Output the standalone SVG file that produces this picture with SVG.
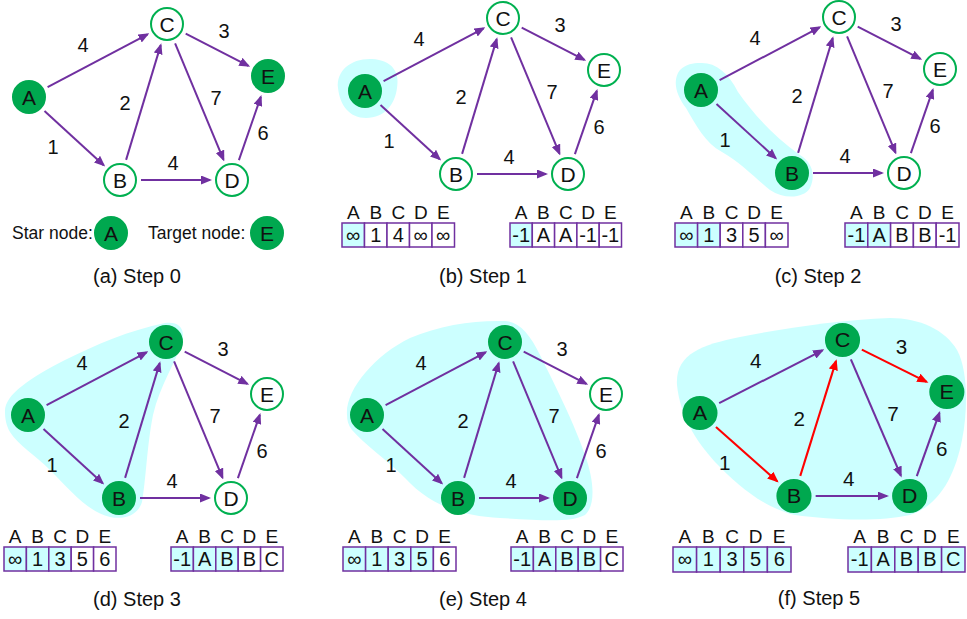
<svg xmlns="http://www.w3.org/2000/svg" width="967" height="619" viewBox="0 0 967 619">
<defs>
  <marker id="ap" viewBox="0 0 11 9" refX="9" refY="4.5" markerWidth="11" markerHeight="9" markerUnits="userSpaceOnUse" orient="auto"><path d="M0,0 L11,4.5 L0,9 z" fill="#7030A0"/></marker>
  <marker id="ar" viewBox="0 0 11 9" refX="9" refY="4.5" markerWidth="11" markerHeight="9" markerUnits="userSpaceOnUse" orient="auto"><path d="M0,0 L11,4.5 L0,9 z" fill="#FF0000"/></marker>
</defs>
<style>
  text{font-family:"Liberation Sans",Arial,sans-serif;fill:#111}
  .w{font-size:20px;text-anchor:middle}
  .nt{font-size:21px;text-anchor:middle}
  .hd{font-size:19px;text-anchor:middle}
  .cv{font-size:20px;text-anchor:middle}
  .cap{font-size:20px;text-anchor:middle}
  .leg{font-size:17.5px}
  .open{fill:#fff;stroke:#00B050;stroke-width:2}
  .done{fill:#00A84F;stroke:#00A84F;stroke-width:2}
  .edges line{stroke:#7030A0;stroke-width:2;fill:none;marker-end:url(#ap)}
  .edges line.red{stroke:#FF0000;marker-end:url(#ar)}
  .blob{fill:#CCFFFF}
  .cell{fill:#fff;stroke:#7030A0;stroke-width:1.5}
  .cell.hl{fill:#CCFFFF}
</style>
<rect width="967" height="619" fill="#fff"/>

<!-- visited-set regions -->
<path class="blob" d="M 338 88 C 336 70, 352 58, 372 59 C 392 60, 400 72, 397 88 C 395 104, 385 118, 366 118 C 350 118, 340 106, 338 88 Z"/>
<path class="blob" d="M 700 63 C 715 62, 728 72, 738 92 C 752 112, 772 135, 800 155 C 812 162, 816 175, 810 188 C 804 198, 785 200, 770 190 C 755 178, 740 162, 722 152 C 705 143, 696 125, 686 108 C 676 95, 672 80, 680 70 C 686 64, 693 63, 700 63 Z"/>
<path class="blob" d="M 5 412 C 4 395, 30 378, 65 360 C 95 345, 130 330, 165 323 C 178 321, 186 328, 182 342 C 176 362, 160 385, 153 415 C 147 445, 146 480, 142 502 C 138 515, 125 520, 110 517 C 88 512, 70 490, 50 470 C 35 455, 18 445, 10 432 C 6 425, 5 418, 5 412 Z"/>
<path class="blob" d="M 347 415 C 345 390, 375 355, 410 338 C 440 325, 475 320, 505 321 C 520 322, 530 335, 540 355 C 555 385, 575 425, 585 455 C 594 480, 596 505, 585 515 C 570 523, 540 520, 500 518 C 460 516, 430 505, 405 478 C 385 458, 365 445, 352 430 C 348 425, 347 420, 347 415 Z"/>
<path class="blob" d="M 677 385 C 675 355, 700 345, 740 337 C 785 328, 840 320, 890 318 C 920 318, 945 330, 957 350 C 968 370, 968 410, 962 440 C 955 475, 940 505, 910 515 C 880 522, 830 520, 795 515 C 765 508, 740 488, 715 462 C 695 440, 680 415, 677 385 Z"/>

<!-- (a) Step 0 -->
<g id="panel-a">
  <g id="a-edges" class="edges">
    <line x1="47.6" y1="87.2" x2="147.6" y2="34.3"/>
    <line x1="44.5" y1="111.1" x2="103.7" y2="165.2"/>
    <line x1="126.1" y1="159.9" x2="160.7" y2="45.1"/>
    <line x1="175.1" y1="43.4" x2="223.5" y2="159.7"/>
    <line x1="185.7" y1="33.6" x2="248.4" y2="65.9"/>
    <line x1="141" y1="180" x2="210" y2="180"/>
    <line x1="238.9" y1="160.2" x2="260.8" y2="96.8"/>
  </g>
  <g id="a-weights">
    <text class="w" x="83" y="52">4</text><text class="w" x="224" y="38">3</text><text class="w" x="125" y="110">2</text><text class="w" x="216" y="105">7</text><text class="w" x="53" y="154">1</text><text class="w" x="173" y="170">4</text><text class="w" x="263" y="140">6</text>
  </g>
  <g id="a-A"><circle class="done" cx="29" cy="97" r="16"/><text class="nt" x="29" y="104.5">A</text></g>
  <g id="a-B"><circle class="open" cx="120" cy="180" r="16"/><text class="nt" x="120" y="187.5">B</text></g>
  <g id="a-C"><circle class="open" cx="167" cy="24" r="16"/><text class="nt" x="167" y="31.5">C</text></g>
  <g id="a-D"><circle class="open" cx="232" cy="180" r="16"/><text class="nt" x="232" y="187.5">D</text></g>
  <g id="a-E"><circle class="done" cx="268" cy="76" r="16"/><text class="nt" x="268" y="83.5">E</text></g>
  <g id="legend">
    <text class="leg" x="12" y="239">Star node:</text>
    <g id="legend-start"><circle class="done" cx="111" cy="233" r="16"/><text class="nt" x="111" y="240.5">A</text></g>
    <text class="leg" x="148" y="239">Target node:</text>
    <g id="legend-target"><circle class="done" cx="267" cy="233" r="16"/><text class="nt" x="267" y="240.5">E</text></g>
  </g>
  <text class="cap" x="137" y="283">(a) Step 0</text>
</g>

<!-- (b) Step 1 -->
<g id="panel-b">
  <g transform="translate(336,-6)">
    <g id="b-edges" class="edges">
      <line x1="47.6" y1="87.2" x2="147.6" y2="34.3"/>
      <line x1="44.5" y1="111.1" x2="103.7" y2="165.2"/>
      <line x1="126.1" y1="159.9" x2="160.7" y2="45.1"/>
      <line x1="175.1" y1="43.4" x2="223.5" y2="159.7"/>
      <line x1="185.7" y1="33.6" x2="248.4" y2="65.9"/>
      <line x1="141" y1="180" x2="210" y2="180"/>
      <line x1="238.9" y1="160.2" x2="260.8" y2="96.8"/>
    </g>
    <g id="b-weights">
      <text class="w" x="83" y="52">4</text><text class="w" x="224" y="38">3</text><text class="w" x="125" y="110">2</text><text class="w" x="216" y="105">7</text><text class="w" x="53" y="154">1</text><text class="w" x="173" y="170">4</text><text class="w" x="263" y="140">6</text>
    </g>
    <g id="b-A"><circle class="done" cx="29" cy="97" r="16"/><text class="nt" x="29" y="104.5">A</text></g>
    <g id="b-B"><circle class="open" cx="120" cy="180" r="16"/><text class="nt" x="120" y="187.5">B</text></g>
    <g id="b-C"><circle class="open" cx="167" cy="24" r="16"/><text class="nt" x="167" y="31.5">C</text></g>
    <g id="b-D"><circle class="open" cx="232" cy="180" r="16"/><text class="nt" x="232" y="187.5">D</text></g>
    <g id="b-E"><circle class="open" cx="268" cy="76" r="16"/><text class="nt" x="268" y="83.5">E</text></g>
  </g>
  <g id="b-dist">
    <text class="hd" x="353.25" y="219">A</text><text class="hd" x="375.75" y="219">B</text><text class="hd" x="398.25" y="219">C</text><text class="hd" x="420.75" y="219">D</text><text class="hd" x="443.25" y="219">E</text>
    <rect class="cell hl" x="342" y="223" width="22.5" height="24"/><rect class="cell" x="364.5" y="223" width="22.5" height="24"/><rect class="cell" x="387" y="223" width="22.5" height="24"/><rect class="cell" x="409.5" y="223" width="22.5" height="24"/><rect class="cell" x="432" y="223" width="22.5" height="24"/>
    <text class="cv" x="353.25" y="242">∞</text><text class="cv" x="375.75" y="242">1</text><text class="cv" x="398.25" y="242">4</text><text class="cv" x="420.75" y="242">∞</text><text class="cv" x="443.25" y="242">∞</text>
  </g>
  <g id="b-prev">
    <text class="hd" x="521.15" y="219">A</text><text class="hd" x="543.45" y="219">B</text><text class="hd" x="565.75" y="219">C</text><text class="hd" x="588.05" y="219">D</text><text class="hd" x="610.35" y="219">E</text>
    <rect class="cell hl" x="510" y="223" width="22.3" height="24"/><rect class="cell" x="532.3" y="223" width="22.3" height="24"/><rect class="cell" x="554.6" y="223" width="22.3" height="24"/><rect class="cell" x="576.9" y="223" width="22.3" height="24"/><rect class="cell" x="599.2" y="223" width="22.3" height="24"/>
    <text class="cv" x="521.15" y="242">-1</text><text class="cv" x="543.45" y="242">A</text><text class="cv" x="565.75" y="242">A</text><text class="cv" x="588.05" y="242">-1</text><text class="cv" x="610.35" y="242">-1</text>
  </g>
  <text class="cap" x="483" y="283">(b) Step 1</text>
</g>

<!-- (c) Step 2 -->
<g id="panel-c">
  <g transform="translate(672,-7)">
    <g id="c-edges" class="edges">
      <line x1="47.6" y1="87.2" x2="147.6" y2="34.3"/>
      <line x1="44.5" y1="111.1" x2="103.7" y2="165.2"/>
      <line x1="126.1" y1="159.9" x2="160.7" y2="45.1"/>
      <line x1="175.1" y1="43.4" x2="223.5" y2="159.7"/>
      <line x1="185.7" y1="33.6" x2="248.4" y2="65.9"/>
      <line x1="141" y1="180" x2="210" y2="180"/>
      <line x1="238.9" y1="160.2" x2="260.8" y2="96.8"/>
    </g>
    <g id="c-weights">
      <text class="w" x="83" y="52">4</text><text class="w" x="224" y="38">3</text><text class="w" x="125" y="110">2</text><text class="w" x="216" y="105">7</text><text class="w" x="53" y="154">1</text><text class="w" x="173" y="170">4</text><text class="w" x="263" y="140">6</text>
    </g>
    <g id="c-A"><circle class="done" cx="29" cy="97" r="16"/><text class="nt" x="29" y="104.5">A</text></g>
    <g id="c-B"><circle class="done" cx="120" cy="180" r="16"/><text class="nt" x="120" y="187.5">B</text></g>
    <g id="c-C"><circle class="open" cx="167" cy="24" r="16"/><text class="nt" x="167" y="31.5">C</text></g>
    <g id="c-D"><circle class="open" cx="232" cy="180" r="16"/><text class="nt" x="232" y="187.5">D</text></g>
    <g id="c-E"><circle class="open" cx="268" cy="76" r="16"/><text class="nt" x="268" y="83.5">E</text></g>
  </g>
  <g id="c-dist">
    <text class="hd" x="686.3" y="219">A</text><text class="hd" x="708.9" y="219">B</text><text class="hd" x="731.5" y="219">C</text><text class="hd" x="754.1" y="219">D</text><text class="hd" x="776.7" y="219">E</text>
    <rect class="cell hl" x="675" y="223" width="22.6" height="24"/><rect class="cell hl" x="697.6" y="223" width="22.6" height="24"/><rect class="cell" x="720.2" y="223" width="22.6" height="24"/><rect class="cell" x="742.8" y="223" width="22.6" height="24"/><rect class="cell" x="765.4" y="223" width="22.6" height="24"/>
    <text class="cv" x="686.3" y="242">∞</text><text class="cv" x="708.9" y="242">1</text><text class="cv" x="731.5" y="242">3</text><text class="cv" x="754.1" y="242">5</text><text class="cv" x="776.7" y="242">∞</text>
  </g>
  <g id="c-prev">
    <text class="hd" x="856.4" y="219">A</text><text class="hd" x="879.2" y="219">B</text><text class="hd" x="902" y="219">C</text><text class="hd" x="924.8" y="219">D</text><text class="hd" x="947.6" y="219">E</text>
    <rect class="cell hl" x="845" y="223" width="22.8" height="24"/><rect class="cell hl" x="867.8" y="223" width="22.8" height="24"/><rect class="cell" x="890.6" y="223" width="22.8" height="24"/><rect class="cell" x="913.4" y="223" width="22.8" height="24"/><rect class="cell" x="936.2" y="223" width="22.8" height="24"/>
    <text class="cv" x="856.4" y="242">-1</text><text class="cv" x="879.2" y="242">A</text><text class="cv" x="902" y="242">B</text><text class="cv" x="924.8" y="242">B</text><text class="cv" x="947.6" y="242">-1</text>
  </g>
  <text class="cap" x="818" y="283">(c) Step 2</text>
</g>

<!-- (d) Step 3 -->
<g id="panel-d">
  <g transform="translate(-1,318)">
    <g id="d-edges" class="edges">
      <line x1="47.6" y1="87.2" x2="147.6" y2="34.3"/>
      <line x1="44.5" y1="111.1" x2="103.7" y2="165.2"/>
      <line x1="126.1" y1="159.9" x2="160.7" y2="45.1"/>
      <line x1="175.1" y1="43.4" x2="223.5" y2="159.7"/>
      <line x1="185.7" y1="33.6" x2="248.4" y2="65.9"/>
      <line x1="141" y1="180" x2="210" y2="180"/>
      <line x1="238.9" y1="160.2" x2="260.8" y2="96.8"/>
    </g>
    <g id="d-weights">
      <text class="w" x="83" y="52">4</text><text class="w" x="224" y="38">3</text><text class="w" x="125" y="110">2</text><text class="w" x="216" y="105">7</text><text class="w" x="53" y="154">1</text><text class="w" x="173" y="170">4</text><text class="w" x="263" y="140">6</text>
    </g>
    <g id="d-A"><circle class="done" cx="29" cy="97" r="16"/><text class="nt" x="29" y="104.5">A</text></g>
    <g id="d-B"><circle class="done" cx="120" cy="180" r="16"/><text class="nt" x="120" y="187.5">B</text></g>
    <g id="d-C"><circle class="done" cx="167" cy="24" r="16"/><text class="nt" x="167" y="31.5">C</text></g>
    <g id="d-D"><circle class="open" cx="232" cy="180" r="16"/><text class="nt" x="232" y="187.5">D</text></g>
    <g id="d-E"><circle class="open" cx="268" cy="76" r="16"/><text class="nt" x="268" y="83.5">E</text></g>
  </g>
  <g id="d-dist">
    <text class="hd" x="15.2" y="543">A</text><text class="hd" x="37.6" y="543">B</text><text class="hd" x="60" y="543">C</text><text class="hd" x="82.4" y="543">D</text><text class="hd" x="104.8" y="543">E</text>
    <rect class="cell hl" x="4" y="547" width="22.4" height="24"/><rect class="cell hl" x="26.4" y="547" width="22.4" height="24"/><rect class="cell hl" x="48.8" y="547" width="22.4" height="24"/><rect class="cell" x="71.2" y="547" width="22.4" height="24"/><rect class="cell" x="93.6" y="547" width="22.4" height="24"/>
    <text class="cv" x="15.2" y="566">∞</text><text class="cv" x="37.6" y="566">1</text><text class="cv" x="60" y="566">3</text><text class="cv" x="82.4" y="566">5</text><text class="cv" x="104.8" y="566">6</text>
  </g>
  <g id="d-prev">
    <text class="hd" x="182.2" y="543">A</text><text class="hd" x="204.6" y="543">B</text><text class="hd" x="227" y="543">C</text><text class="hd" x="249.4" y="543">D</text><text class="hd" x="271.8" y="543">E</text>
    <rect class="cell hl" x="171" y="547" width="22.4" height="24"/><rect class="cell hl" x="193.4" y="547" width="22.4" height="24"/><rect class="cell hl" x="215.8" y="547" width="22.4" height="24"/><rect class="cell" x="238.2" y="547" width="22.4" height="24"/><rect class="cell" x="260.6" y="547" width="22.4" height="24"/>
    <text class="cv" x="182.2" y="566">-1</text><text class="cv" x="204.6" y="566">A</text><text class="cv" x="227" y="566">B</text><text class="cv" x="249.4" y="566">B</text><text class="cv" x="271.8" y="566">C</text>
  </g>
  <text class="cap" x="137" y="606">(d) Step 3</text>
</g>

<!-- (e) Step 4 -->
<g id="panel-e">
  <g transform="translate(338,318)">
    <g id="e-edges" class="edges">
      <line x1="47.6" y1="87.2" x2="147.6" y2="34.3"/>
      <line x1="44.5" y1="111.1" x2="103.7" y2="165.2"/>
      <line x1="126.1" y1="159.9" x2="160.7" y2="45.1"/>
      <line x1="175.1" y1="43.4" x2="223.5" y2="159.7"/>
      <line x1="185.7" y1="33.6" x2="248.4" y2="65.9"/>
      <line x1="141" y1="180" x2="210" y2="180"/>
      <line x1="238.9" y1="160.2" x2="260.8" y2="96.8"/>
    </g>
    <g id="e-weights">
      <text class="w" x="83" y="52">4</text><text class="w" x="224" y="38">3</text><text class="w" x="125" y="110">2</text><text class="w" x="216" y="105">7</text><text class="w" x="53" y="154">1</text><text class="w" x="173" y="170">4</text><text class="w" x="263" y="140">6</text>
    </g>
    <g id="e-A"><circle class="done" cx="29" cy="97" r="16"/><text class="nt" x="29" y="104.5">A</text></g>
    <g id="e-B"><circle class="done" cx="120" cy="180" r="16"/><text class="nt" x="120" y="187.5">B</text></g>
    <g id="e-C"><circle class="done" cx="167" cy="24" r="16"/><text class="nt" x="167" y="31.5">C</text></g>
    <g id="e-D"><circle class="done" cx="232" cy="180" r="16"/><text class="nt" x="232" y="187.5">D</text></g>
    <g id="e-E"><circle class="open" cx="268" cy="76" r="16"/><text class="nt" x="268" y="83.5">E</text></g>
  </g>
  <g id="e-dist">
    <text class="hd" x="354.3" y="543">A</text><text class="hd" x="376.9" y="543">B</text><text class="hd" x="399.5" y="543">C</text><text class="hd" x="422.1" y="543">D</text><text class="hd" x="444.7" y="543">E</text>
    <rect class="cell hl" x="343" y="547" width="22.6" height="24"/><rect class="cell hl" x="365.6" y="547" width="22.6" height="24"/><rect class="cell hl" x="388.2" y="547" width="22.6" height="24"/><rect class="cell hl" x="410.8" y="547" width="22.6" height="24"/><rect class="cell" x="433.4" y="547" width="22.6" height="24"/>
    <text class="cv" x="354.3" y="566">∞</text><text class="cv" x="376.9" y="566">1</text><text class="cv" x="399.5" y="566">3</text><text class="cv" x="422.1" y="566">5</text><text class="cv" x="444.7" y="566">6</text>
  </g>
  <g id="e-prev">
    <text class="hd" x="522.2" y="543">A</text><text class="hd" x="544.6" y="543">B</text><text class="hd" x="567" y="543">C</text><text class="hd" x="589.4" y="543">D</text><text class="hd" x="611.8" y="543">E</text>
    <rect class="cell hl" x="511" y="547" width="22.4" height="24"/><rect class="cell hl" x="533.4" y="547" width="22.4" height="24"/><rect class="cell hl" x="555.8" y="547" width="22.4" height="24"/><rect class="cell hl" x="578.2" y="547" width="22.4" height="24"/><rect class="cell" x="600.6" y="547" width="22.4" height="24"/>
    <text class="cv" x="522.2" y="566">-1</text><text class="cv" x="544.6" y="566">A</text><text class="cv" x="567" y="566">B</text><text class="cv" x="589.4" y="566">B</text><text class="cv" x="611.8" y="566">C</text>
  </g>
  <text class="cap" x="483" y="606">(e) Step 4</text>
</g>

<!-- (f) Step 5 -->
<g id="panel-f">
  <g transform="matrix(1.033 0 0 1 670 316)">
    <g id="f-edges" class="edges">
      <line x1="47.6" y1="87.2" x2="147.6" y2="34.3"/>
      <line class="red" x1="44.5" y1="111.1" x2="103.7" y2="165.2"/>
      <line class="red" x1="126.1" y1="159.9" x2="160.7" y2="45.1"/>
      <line x1="175.1" y1="43.4" x2="223.5" y2="159.7"/>
      <line class="red" x1="185.7" y1="33.6" x2="248.4" y2="65.9"/>
      <line x1="141" y1="180" x2="210" y2="180"/>
      <line x1="238.9" y1="160.2" x2="260.8" y2="96.8"/>
    </g>
    <g id="f-weights">
      <text class="w" x="83" y="52">4</text><text class="w" x="224" y="38">3</text><text class="w" x="125" y="110">2</text><text class="w" x="216" y="105">7</text><text class="w" x="53" y="154">1</text><text class="w" x="173" y="170">4</text><text class="w" x="263" y="140">6</text>
    </g>
    <g id="f-A"><circle class="done" cx="29" cy="97" r="16"/><text class="nt" x="29" y="104.5">A</text></g>
    <g id="f-B"><circle class="done" cx="120" cy="180" r="16"/><text class="nt" x="120" y="187.5">B</text></g>
    <g id="f-C"><circle class="done" cx="167" cy="24" r="16"/><text class="nt" x="167" y="31.5">C</text></g>
    <g id="f-D"><circle class="done" cx="232" cy="180" r="16"/><text class="nt" x="232" y="187.5">D</text></g>
    <g id="f-E"><circle class="done" cx="268" cy="76" r="16"/><text class="nt" x="268" y="83.5">E</text></g>
  </g>
  <g id="f-dist">
    <text class="hd" x="684.8" y="543">A</text><text class="hd" x="708.4" y="543">B</text><text class="hd" x="732" y="543">C</text><text class="hd" x="755.6" y="543">D</text><text class="hd" x="779.2" y="543">E</text>
    <rect class="cell hl" x="673" y="547" width="23.6" height="25"/><rect class="cell hl" x="696.6" y="547" width="23.6" height="25"/><rect class="cell hl" x="720.2" y="547" width="23.6" height="25"/><rect class="cell hl" x="743.8" y="547" width="23.6" height="25"/><rect class="cell hl" x="767.4" y="547" width="23.6" height="25"/>
    <text class="cv" x="684.8" y="566">∞</text><text class="cv" x="708.4" y="566">1</text><text class="cv" x="732" y="566">3</text><text class="cv" x="755.6" y="566">5</text><text class="cv" x="779.2" y="566">6</text>
  </g>
  <g id="f-prev">
    <text class="hd" x="859.7" y="543">A</text><text class="hd" x="883.1" y="543">B</text><text class="hd" x="906.5" y="543">C</text><text class="hd" x="929.9" y="543">D</text><text class="hd" x="953.3" y="543">E</text>
    <rect class="cell hl" x="848" y="547" width="23.4" height="25"/><rect class="cell hl" x="871.4" y="547" width="23.4" height="25"/><rect class="cell hl" x="894.8" y="547" width="23.4" height="25"/><rect class="cell hl" x="918.2" y="547" width="23.4" height="25"/><rect class="cell hl" x="941.6" y="547" width="23.4" height="25"/>
    <text class="cv" x="859.7" y="566">-1</text><text class="cv" x="883.1" y="566">A</text><text class="cv" x="906.5" y="566">B</text><text class="cv" x="929.9" y="566">B</text><text class="cv" x="953.3" y="566">C</text>
  </g>
  <text class="cap" x="819" y="605">(f) Step 5</text>
</g>
</svg>
